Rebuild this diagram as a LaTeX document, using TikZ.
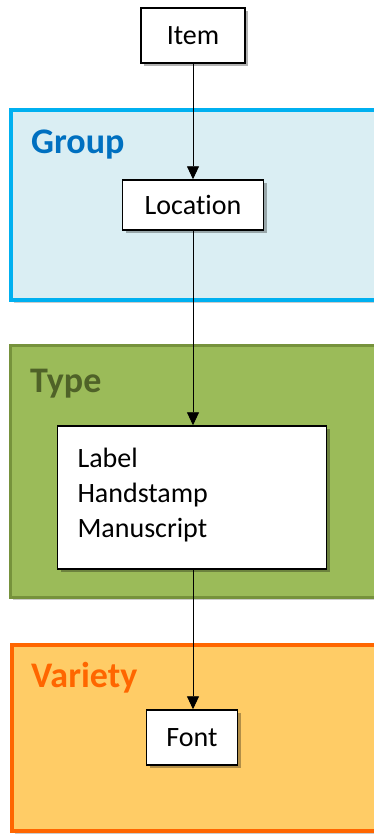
\documentclass[tikz,border=0pt]{standalone}
\usepackage{fontspec}
\setmainfont{Carlito}[Ligatures=NoCommon]
\usetikzlibrary{arrows.meta,shadows}
\definecolor{grpfill}{HTML}{DAEEF3}
\definecolor{grpdraw}{HTML}{00B0F0}
\definecolor{grptext}{HTML}{0070C0}
\definecolor{typfill}{HTML}{9BBB59}
\definecolor{typdraw}{HTML}{76923C}
\definecolor{typtext}{HTML}{4F6228}
\definecolor{varfill}{HTML}{FFCC66}
\definecolor{vardraw}{HTML}{FF6600}
\definecolor{vartext}{HTML}{FF6600}
\tikzset{
  box/.style={draw=black, fill=white, line width=1.5pt, rectangle, inner sep=0pt,
    font=\fontsize{28}{35}\selectfont,
    drop shadow={shadow xshift=3pt, shadow yshift=-3pt, opacity=0.3, fill=black}},
  container/.style={line width=4pt,
    drop shadow={shadow xshift=3pt, shadow yshift=-3pt, opacity=0.2, fill=black}},
  title/.style={anchor=base west, inner sep=0pt, font=\fontsize{36}{40}\selectfont\bfseries},
  conn/.style={line width=0.9pt, -{Triangle[length=13pt,width=12pt]}}
}
\begin{document}
\begin{tikzpicture}[x=1pt,y=-1pt]
\useasboundingbox (0,0) rectangle (374,836);
% containers
\draw[container, draw=grpdraw, fill=grpfill] (11,110) rectangle (376,300);
\draw[container, line width=3pt, draw=typdraw, fill=typfill] (10,345) rectangle (376,597);
\draw[container, draw=vardraw, fill=varfill] (12,645) rectangle (376,831);
% titles
\node[title, text=grptext] (tgroup) at (31,153) {Group};
\node[title, text=typtext] (ttype) at (30,392) {Type};
\node[title, text=vartext] (tvariety) at (31,687) {Variety};
% boxes
\node[box, minimum width=104pt, minimum height=55pt] (item) at (193,35.5) {Item};
\node[box, minimum width=141pt, minimum height=50pt] (loc) at (193,205) {Location};
\node[box, minimum width=269pt, minimum height=143pt, align=left, text width=229pt, text depth=79pt] (lab) at (192,497.5) {Label\\Handstamp\\Manuscript};
\node[box, minimum width=91pt, minimum height=55pt] (font) at (192,737.5) {Font};
% connectors
\draw[conn] (item.south) -- (item.south |- loc.north);
\draw[conn] (loc.south) -- (loc.south |- lab.north);
\draw[conn] (lab.south -| loc.south) -- (font.north -| loc.south);
\end{tikzpicture}
\end{document}
